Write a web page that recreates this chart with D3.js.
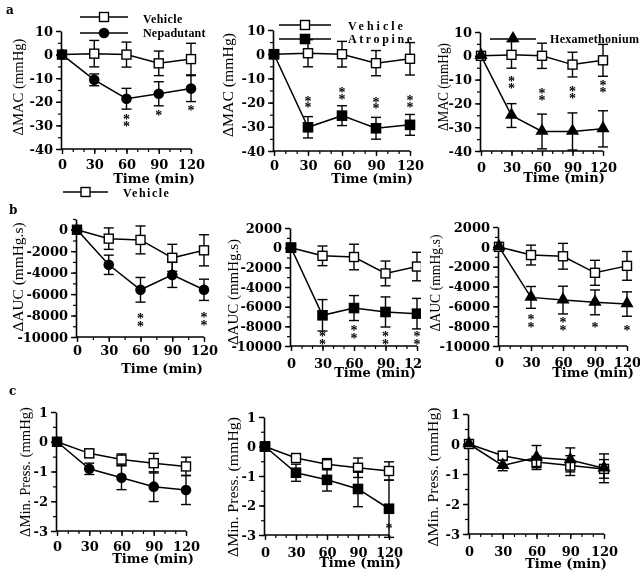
<!DOCTYPE html>
<html>
<head>
<meta charset="utf-8">
<script src="https://cdn.jsdelivr.net/npm/d3@7"></script>
<style>
  body { margin: 0; background: #fff; }
  svg { display: block; will-change: transform; }
</style>
</head>
<body>
<svg id="fig" width="640" height="574"></svg>
<script>
// time points shared by every panel
const times = [0, 30, 60, 90, 120];
const xTickLabels = ["0", "30", "60", "90", "120"];

// a: change in MAC (mmHg)
const vehMAC = [0, 0.4, 0, -3.7, -1.9];
const vehMACErr = [0, 5.6, 5.3, 5.2, 6.7];
const nepMAC = [0, -10.7, -18.7, -16.6, -14.4];
const nepMACErr = [0, 2.5, 4.4, 5.1, 5.5];
const atrMAC = [0, -30.2, -25.4, -30.6, -29.2];
const atrMACErr = [0, 4.4, 4.1, 4.5, 4.3];
const hexMAC = [0, -25.1, -31.8, -31.8, -30.7];
const hexMACErr = [0, 5.0, 7.3, 7.8, 7.6];

// b: change in AUC (mmHg.s)
const vehAUC = [0, -830, -950, -2620, -1920];
const vehAUCErr = [0, 1000, 1300, 1260, 1450];
const nepAUC = [0, -3270, -5600, -4210, -5600];
const nepAUCErr = [0, 900, 1150, 1170, 990];
const atrAUC = [0, -6880, -6140, -6540, -6710];
const atrAUCErr = [0, 1600, 1270, 1530, 1550];
const hexAUC = [0, -5100, -5370, -5600, -5770];
const hexAUCErr = [0, 1100, 1400, 1250, 1230];

// c: change in minimal pressure (mmHg)
const vehMin = [0, -0.39, -0.60, -0.72, -0.83];
const vehMinErr = [0, 0.14, 0.19, 0.33, 0.31];
const nepMin = [0, -0.91, -1.21, -1.51, -1.62];
const nepMinErr = [0, 0.19, 0.40, 0.50, 0.49];
const atrMin = [0, -0.89, -1.13, -1.44, -2.11];
const atrMinErr = [0, 0.29, 0.38, 0.60, 0.97];
const hexMin = [0, -0.72, -0.45, -0.53, -0.81];
const hexMinErr = [0, 0.17, 0.40, 0.40, 0.48];

// significance marks: number of asterisks and the value of the top one
const nepMACStars = [0, 0, 2, 1, 1];
const nepMACStarAt = [0, 0, -26.4, -24.8, -22.7];
const atrMACStars = [0, 2, 2, 2, 2];
const atrMACStarAt = [0, -18.5, -14.8, -18.9, -18.1];
const hexMACStars = [0, 2, 2, 2, 2];
const hexMACStarAt = [0, -9.7, -14.8, -14, -11.5];
const nepAUCStars = [0, 0, 2, 0, 2];
const nepAUCStarAt = [0, 0, -8040, 0, -7950];
const atrAUCStars = [0, 2, 2, 2, 2];
const atrAUCStarAt = [0, -8780, -8170, -8780, -8780];
const hexAUCStars = [0, 2, 2, 1, 1];
const hexAUCStarAt = [0, -7080, -7380, -7880, -8180];
const noStars = [0, 0, 0, 0, 0];
const atrMinStars = [0, 0, 0, 0, 1];
const atrMinStarAt = [0, 0, 0, 0, -2.69];

const macTicks = [-40, -30, -20, -10, 0, 10];
const aucTicksA = [-10000, -8000, -6000, -4000, -2000, 0];
const aucTicksB = [-10000, -8000, -6000, -4000, -2000, 0, 2000];
const minTicks = [-3, -2, -1, 0, 1];

const tickFont = "'DejaVu Serif', serif";
const labelFont = "'Liberation Serif', 'Times New Roman', serif";

const svg = d3.select("#fig");

svg.append("defs").append("clipPath").attr("id", "clipB2")
  .append("rect").attr("x", 0).attr("y", 0).attr("width", 421).attr("height", 574);

const panels = [
  { x0: 62, x1: 191, yTop: 31, yBot: 149, dom: [-40, 10], ticks: macTicks, yMinor: 5, xMinor: 10,
    ylab: "ΔMAC (mmHg)", lx: 18, ly: 87, llen: 97, tickOff: 20, tx: 154, ty: 183,
    veh: vehMAC, vehErr: vehMACErr, trt: nepMAC, trtErr: nepMACErr, mark: "circle",
    stars: nepMACStars, starAt: nepMACStarAt, starGap: 7.5 },
  { x0: 274, x1: 410, yTop: 30, yBot: 151, dom: [-40, 10], ticks: macTicks, yMinor: 5, xMinor: 10,
    ylab: "ΔMAC (mmHg)", lx: 228, ly: 85, llen: 104, tickOff: 19, tx: 372, ty: 183,
    veh: vehMAC, vehErr: vehMACErr, trt: atrMAC, trtErr: atrMACErr, mark: "square",
    stars: atrMACStars, starAt: atrMACStarAt, starGap: 6.5 },
  { x0: 481, x1: 603, yTop: 32, yBot: 151, dom: [-40, 10], ticks: macTicks, yMinor: 5, xMinor: 10,
    ylab: "ΔMAC (mmHg)", lx: 443, ly: 87, llen: 88, tickOff: 21, tx: 564, ty: 182,
    veh: vehMAC, vehErr: vehMACErr, trt: hexMAC, trtErr: hexMACErr, mark: "triangle",
    stars: hexMACStars, starAt: hexMACStarAt, starGap: 7 },
  { x0: 77, x1: 204, yTop: 219, yBot: 337, dom: [-10000, 1000], ticks: aucTicksA, yMinor: 1000, xMinor: 15,
    ylab: "ΔAUC (mmHg.s)", lx: 18, ly: 277, llen: 109, tickOff: 18, tx: 162, ty: 373,
    veh: vehAUC, vehErr: vehAUCErr, trt: nepAUC, trtErr: nepAUCErr, mark: "circle",
    stars: nepAUCStars, starAt: nepAUCStarAt, starGap: 8 },
  { x0: 291, x1: 417, yTop: 228, yBot: 346, dom: [-10000, 2000], ticks: aucTicksB, yMinor: 1000, xMinor: 10,
    ylab: "ΔAUC (mmHg.s)", lx: 233, ly: 292, llen: 106, tickOff: 22, tx: 375, ty: 377,
    veh: vehAUC, vehErr: vehAUCErr, trt: atrAUC, trtErr: atrAUCErr, mark: "square",
    stars: atrAUCStars, starAt: atrAUCStarAt, starGap: 7.5, clip: "clipB2" },
  { x0: 499, x1: 627, yTop: 227, yBot: 346, dom: [-10000, 2000], ticks: aucTicksB, yMinor: 1000, xMinor: 10,
    ylab: "ΔAUC (mmHg.s)", lx: 435, ly: 283, llen: 97, tickOff: 21, tx: 593, ty: 377,
    veh: vehAUC, vehErr: vehAUCErr, trt: hexAUC, trtErr: hexAUCErr, mark: "triangle",
    stars: hexAUCStars, starAt: hexAUCStarAt, starGap: 8 },
  { x0: 57, x1: 186, yTop: 412, yBot: 531, dom: [-3, 1], ticks: minTicks, yMinor: 0.5, xMinor: 10,
    ylab: "ΔMin. Press. (mmHg)", lx: 25, ly: 472, llen: 130, tickOff: 20, tx: 153, ty: 563,
    veh: vehMin, vehErr: vehMinErr, trt: nepMin, trtErr: nepMinErr, mark: "circle",
    stars: noStars, starAt: noStars, starGap: 7 },
  { x0: 265, x1: 389, yTop: 417, yBot: 535, dom: [-3, 1], ticks: minTicks, yMinor: 0.5, xMinor: 10,
    ylab: "ΔMin. Press. (mmHg)", lx: 233, ly: 487, llen: 140, tickOff: 22, tx: 360, ty: 567,
    veh: vehMin, vehErr: vehMinErr, trt: atrMin, trtErr: atrMinErr, mark: "square",
    stars: atrMinStars, starAt: atrMinStarAt, starGap: 7 },
  { x0: 469, x1: 604, yTop: 414, yBot: 534, dom: [-3, 1], ticks: minTicks, yMinor: 0.5, xMinor: 10,
    ylab: "ΔMin. Press. (mmHg)", lx: 433, ly: 477, llen: 139, tickOff: 22, tx: 566, ty: 568,
    veh: vehMin, vehErr: vehMinErr, trt: hexMin, trtErr: hexMinErr, mark: "triangle",
    stars: noStars, starAt: noStars, starGap: 7 }
];

function drawMarker(g, type, cx, cy) {
  if (type === "open") {
    g.append("rect").attr("x", cx - 4.5).attr("y", cy - 4.5).attr("width", 9).attr("height", 9)
      .attr("fill", "#fff").attr("stroke", "#000").attr("stroke-width", 1.4);
  } else if (type === "circle") {
    g.append("circle").attr("cx", cx).attr("cy", cy).attr("r", 5.3).attr("fill", "#000");
  } else if (type === "square") {
    g.append("rect").attr("x", cx - 5.3).attr("y", cy - 5.3).attr("width", 10.6).attr("height", 10.6)
      .attr("fill", "#000");
  } else {
    g.append("path").attr("d", d3.symbol(d3.symbolTriangle, 75)()).attr("fill", "#000")
      .attr("transform", "translate(" + cx + "," + (cy - 0.5) + ")");
  }
}

function drawSeries(g, x, y, vals, errs, type) {
  g.append("path")
    .datum(vals)
    .attr("fill", "none")
    .attr("stroke", "#000")
    .attr("stroke-width", 1.5)
    .attr("d", d3.line().x((d, i) => x(times[i])).y(d => y(d)));

  vals.forEach((v, i) => {
    if (errs[i] > 0) {
      const cx = x(times[i]);
      g.append("line").attr("x1", cx).attr("x2", cx)
        .attr("y1", y(v + errs[i])).attr("y2", y(v - errs[i]))
        .attr("stroke", "#000").attr("stroke-width", 1.4);
      [v + errs[i], v - errs[i]].forEach(e => {
        g.append("line").attr("x1", cx - 5).attr("x2", cx + 5)
          .attr("y1", y(e)).attr("y2", y(e))
          .attr("stroke", "#000").attr("stroke-width", 1.4);
      });
    }
  });
  vals.forEach((v, i) => drawMarker(g, type, x(times[i]), y(v)));
}

panels.forEach(p => {
  const g = svg.append("g");
  if (p.clip) g.attr("clip-path", "url(#" + p.clip + ")");

  const x = d3.scaleLinear().domain([0, 120]).range([p.x0, p.x1]);
  const y = d3.scaleLinear().domain(p.dom).range([p.yBot, p.yTop]);
  const ax = p.x0 - 1;

  // minor ticks
  const yMinorVals = d3.range(p.dom[0], p.dom[1] + 1e-9, p.yMinor);
  g.append("g").attr("transform", "translate(" + ax + ",0)")
    .call(d3.axisLeft(y).tickValues(yMinorVals).tickSize(3).tickFormat(""))
    .call(s => s.select(".domain").remove())
    .selectAll("line").attr("stroke-width", 1.2);
  const xMinorVals = d3.range(0, 120 + 1e-9, p.xMinor);
  g.append("g").attr("transform", "translate(0," + p.yBot + ")")
    .call(d3.axisBottom(x).tickValues(xMinorVals).tickSize(3).tickFormat(""))
    .call(s => s.select(".domain").remove())
    .selectAll("line").attr("stroke-width", 1.2);

  // y axis
  const yAxis = g.append("g").attr("transform", "translate(" + ax + ",0)")
    .call(d3.axisLeft(y).tickValues(p.ticks).tickSize(5).tickPadding(3)
      .tickFormat(d => String(d)).tickSizeOuter(0));
  yAxis.select(".domain").attr("stroke-width", 1.6);
  yAxis.selectAll("line").attr("stroke-width", 1.4);
  yAxis.selectAll("text").attr("font-family", tickFont).attr("font-weight", "bold")
    .attr("font-size", 13).attr("fill", "#000");

  // x axis
  const xAxis = g.append("g").attr("transform", "translate(0," + p.yBot + ")")
    .call(d3.axisBottom(x).tickValues(times).tickSize(5).tickPadding(p.tickOff - 14.2)
      .tickFormat((d, i) => xTickLabels[i]).tickSizeOuter(0));
  xAxis.select(".domain").attr("d", "M" + ax + ",0H" + p.x1).attr("stroke-width", 1.6);
  xAxis.selectAll("line").attr("stroke-width", 1.4);
  xAxis.selectAll("text").attr("font-family", tickFont).attr("font-weight", "bold")
    .attr("font-size", 13).attr("fill", "#000");

  g.append("text")
    .attr("x", p.tx).attr("y", p.ty)
    .attr("text-anchor", "middle")
    .attr("font-family", tickFont).attr("font-weight", "bold").attr("font-size", 13)
    .text("Time (min)");

  g.append("text")
    .attr("transform", "translate(" + (p.lx + 5) + "," + p.ly + ") rotate(-90)")
    .attr("text-anchor", "middle")
    .attr("font-family", labelFont).attr("font-size", 15)
    .attr("textLength", p.llen).attr("lengthAdjust", "spacingAndGlyphs")
    .text(p.ylab);

  drawSeries(g, x, y, p.veh, p.vehErr, "open");
  drawSeries(g, x, y, p.trt, p.trtErr, p.mark);

  // asterisks: one text per stack, extra stars as tspans below
  p.stars.forEach((n, i) => {
    if (n === 0) return;
    const cx = x(times[i]);
    const t = g.append("text")
      .attr("x", cx).attr("y", y(p.starAt[i]) + 7)
      .attr("text-anchor", "middle")
      .attr("font-family", labelFont).attr("font-weight", "bold").attr("font-size", 14)
      .attr("fill", "#000");
    for (let k = 0; k < n; k++) {
      t.append("tspan").attr("x", cx).attr("dy", k === 0 ? 0 : p.starGap).text("*");
    }
  });
});

// legends
function legendItem(lx1, lx2, ly, type, tx, tyText, label, spacing) {
  svg.append("line").attr("x1", lx1).attr("x2", lx2).attr("y1", ly).attr("y2", ly)
    .attr("stroke", "#000").attr("stroke-width", 1.5);
  drawMarker(svg, type, (lx1 + lx2) / 2, ly);
  svg.append("text").attr("x", tx).attr("y", tyText)
    .attr("font-family", labelFont).attr("font-weight", "bold").attr("font-size", 12)
    .attr("letter-spacing", spacing)
    .text(label);
}
legendItem(80, 128, 17, "open", 143, 23, "Vehicle", 0.4);
legendItem(80, 128, 33, "circle", 143, 37, "Nepadutant", 0.2);
legendItem(279, 331, 25, "open", 348, 30, "Vehicle", 3);
legendItem(279, 331, 39, "square", 348, 43, "Atropine", 2.6);
legendItem(490, 536, 39, "triangle", 550, 43, "Hexamethonium", 0.3);
legendItem(63, 108, 192, "open", 123, 197, "Vehicle", 1.5);

// panel letters
[["a", 6, 14], ["b", 9, 214], ["c", 9, 395]].forEach(d => {
  svg.append("text").attr("x", d[1]).attr("y", d[2])
    .attr("font-family", tickFont).attr("font-weight", "bold").attr("font-size", 12)
    .text(d[0]);
});
</script>
</body>
</html>
